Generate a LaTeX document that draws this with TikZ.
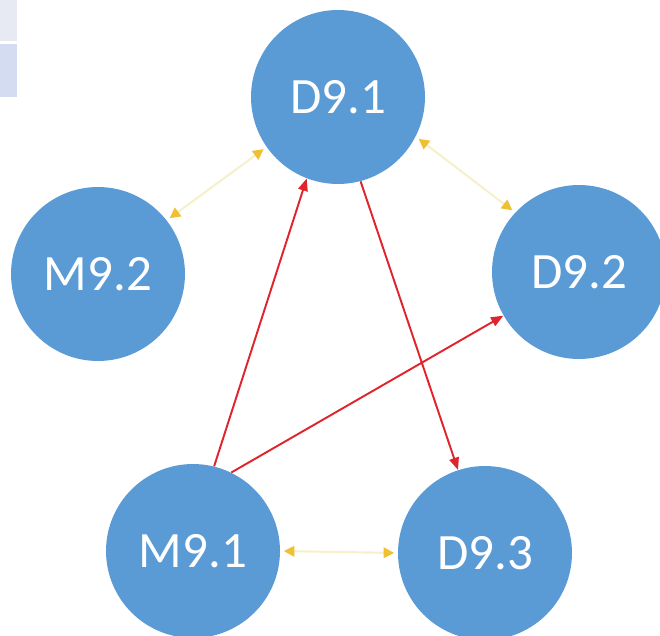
\documentclass[tikz,border=0pt]{standalone}
\usepackage{fontspec}
\setmainfont{Carlito}
\usepackage{xcolor}
\usepackage{tikz}
\usetikzlibrary{arrows.meta}
\usetikzlibrary{calc}

\definecolor{circblue}{HTML}{5B9BD5}
\definecolor{linkred}{HTML}{E0242C}
\definecolor{paleyellow}{HTML}{F4F1CC}
\definecolor{tipgold}{HTML}{EEC032}

\tikzset{
 unit/.style={circle, fill=circblue, text=white, minimum size=3.48cm, inner sep=0pt,
   font=\fontsize{29}{29}\selectfont},
 depend/.style={draw=linkred, line width=1.1pt, -{Triangle[length=7pt, width=5.5pt]}},
 mutual/.style={draw=paleyellow, line width=1.2pt,
   {Triangle[length=6pt, width=6pt, color=tipgold]}-{Triangle[length=6pt, width=6pt, color=tipgold]},
   shorten <=2pt, shorten >=2pt}
}

\begin{document}
\begin{tikzpicture}[x=0.02cm, y=-0.02cm]
 \useasboundingbox (0,0) rectangle (660,636);
 % table edge in the corner
 \fill[fill={rgb,255:red,231;green,234;blue,243}] (0,0) rectangle (17,41);
 \fill[fill={rgb,255:red,211;green,220;blue,240}] (0,44) rectangle (17,97);

 \node[unit] (d91) at (338,97) {D9.1};
 \node[unit] (m92) at (98,274) {M9.2};
 \node[unit] (d92) at (579,272) {D9.2};
 \node[unit] (m91) at (193,551) {M9.1};
 \node[unit] (d93) at (485,553) {D9.3};

 % yellow links
 \draw[mutual] (m92.38) -- (d91.215);
 \draw[mutual] (d91.333) -- (d92.137);
 \draw[mutual] (m91.0) -- (d93.180);

 % red links
 \draw[depend] (m91.76) -- (d91.249);
 \draw[depend] (m91.64) -- (d92.210);
 \draw[depend] (d91.285) -- (d93.108);
\end{tikzpicture}
\end{document}
